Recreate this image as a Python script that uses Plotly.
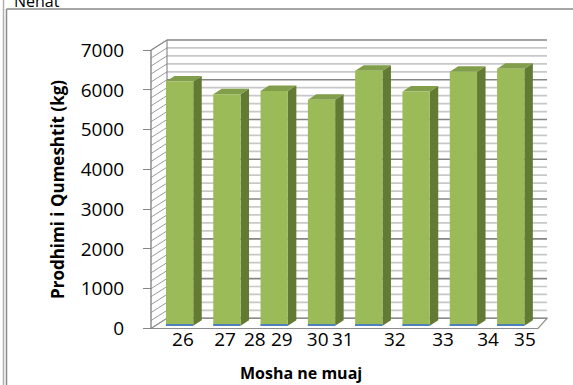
import plotly.graph_objects as go

# ---- data -------------------------------------------------------------
milk_kg = [6140, 5820, 5900, 5680, 6410, 5890, 6390, 6460]   # front bars (kg)
foot_series = [35, 35, 35, 35, 35, 35, 35, 35]                 # thin blue series at the foot
age_labels = ["26", "27", "28", "29", "30", "31", "32", "33", "34", "35"]
y_ticks = [0, 1000, 2000, 3000, 4000, 5000, 6000, 7000]

# ---- layout geometry (pixels) ----------------------------------------
W, H = 573, 385
BAR0_PX = 179.6          # centre of first bar front face
BAR_STEP = 47.3          # distance between bar centres
KPX = 0.03976            # pixels per kg
BASE_PX = 325.7          # row of 0 kg on the bar plane
FRONT_DV = -2.8 / KPX    # front edge of the box, relative to bar plane
BACK_DV = 7.4 / KPX      # back wall, relative to bar plane
BAR_W = 27.3 / BAR_STEP
SIDE_DX = 8.5 / BAR_STEP
SIDE_DV = 5.5 / KPX
label_pos = [0.07, 0.96, 1.59, 2.16, 2.92, 3.45, 4.55, 5.57, 6.52, 7.30]


def X(px):
    return (px - BAR0_PX) / BAR_STEP


x_range = [X(0), X(W)]
y_range = [-(H - BASE_PX) / KPX, BASE_PX / KPX]

FRONT_L, BACK_L = X(151), X(167)
FRONT_R, BACK_R = X(538), X(547)

GREEN = "#9BBB59"
GREEN_TOP = "#819E4A"
GREEN_SIDE = "#637A34"

shapes = []

# back wall grid (major every 1000, minor every 200)
for v in range(0, 7001, 200):
    major = v % 1000 == 0
    shapes.append(dict(type="line", xref="x", yref="y", layer="below",
                       x0=BACK_L, x1=BACK_R, y0=v + BACK_DV, y1=v + BACK_DV,
                       line=dict(color="#858585" if major else "#C8C8C8",
                                 width=1.7)))
    # side wall hatching
    shapes.append(dict(type="line", xref="x", yref="y", layer="below",
                       x0=FRONT_L, x1=BACK_L, y0=v + FRONT_DV, y1=v + BACK_DV,
                       line=dict(color="#9A9A9A", width=1)))

# floor
shapes.append(dict(type="path", xref="x", yref="y", layer="below",
                   path=(f"M{FRONT_L},{FRONT_DV} L{FRONT_R},{FRONT_DV} "
                         f"L{BACK_R},{BACK_DV} L{BACK_L},{BACK_DV} Z"),
                   fillcolor="white", line=dict(color="#8C8C8C", width=1.2)))
# wall edges
shapes.append(dict(type="line", xref="x", yref="y", layer="below",
                   x0=BACK_L, x1=BACK_L, y0=BACK_DV, y1=7000 + BACK_DV,
                   line=dict(color="#8C8C8C", width=1.2)))
shapes.append(dict(type="line", xref="x", yref="y", layer="below",
                   x0=FRONT_L, x1=BACK_L, y0=7000 + FRONT_DV, y1=7000 + BACK_DV,
                   line=dict(color="#8C8C8C", width=1.2)))
# front value axis line
shapes.append(dict(type="line", xref="x", yref="y", layer="above",
                   x0=FRONT_L, x1=FRONT_L, y0=FRONT_DV, y1=7000 + FRONT_DV,
                   line=dict(color="#868686", width=1.4)))

# bar side and top faces
for i, v in enumerate(milk_kg):
    xl, xr = i - BAR_W / 2, i + BAR_W / 2
    shapes.append(dict(type="path", xref="x", yref="y", layer="below",
                       path=(f"M{xr},0 L{xr + SIDE_DX},{SIDE_DV} "
                             f"L{xr + SIDE_DX},{v + SIDE_DV} L{xr},{v} Z"),
                       fillcolor=GREEN_SIDE, line=dict(width=0)))
    shapes.append(dict(type="path", xref="x", yref="y", layer="below",
                       path=(f"M{xl},{v} L{xl + SIDE_DX},{v + SIDE_DV} "
                             f"L{xr + SIDE_DX},{v + SIDE_DV} L{xr},{v} Z"),
                       fillcolor=GREEN_TOP, line=dict(width=0)))

# outer frame
shapes += [
    dict(type="line", xref="paper", yref="paper", x0=3.5 / W, x1=3.5 / W,
         y0=0, y1=1, line=dict(color="#B0B0B0", width=1.5)),
    dict(type="line", xref="paper", yref="paper", x0=6.5 / W, x1=6.5 / W,
         y0=0, y1=1 - 9 / H, line=dict(color="#8A8A8A", width=1.5)),
    dict(type="line", xref="paper", yref="paper", x0=6.5 / W, x1=1,
         y0=1 - 9 / H, y1=1 - 9 / H, line=dict(color="#8A8A8A", width=1.5)),
]

idx = list(range(len(milk_kg)))
fig = go.Figure()
fig.add_trace(go.Bar(x=idx, y=milk_kg, width=BAR_W, marker_color=GREEN,
                     marker_line_width=0, hoverinfo="y"))
fig.add_trace(go.Bar(x=idx, y=foot_series, width=BAR_W, marker_color="#4F81BD",
                     marker_line_width=0, hoverinfo="skip"))
# carrier for the front value axis
fig.add_trace(go.Scatter(x=[None], y=[None], yaxis="y2", showlegend=False))

font = "Open Sans"
fig.update_layout(
    width=W, height=H, margin=dict(l=0, r=0, t=0, b=0),
    paper_bgcolor="white", plot_bgcolor="white",
    barmode="overlay", showlegend=False,
    font=dict(family=font, color="#000000"),
    shapes=shapes,
    xaxis=dict(range=x_range, anchor="free", position=(H - 325) / H,
               showgrid=False, zeroline=False, showline=False,
               tickmode="array", tickvals=label_pos, ticktext=age_labels,
               ticks="", tickfont=dict(size=19, family=font, color="#000"),
               ticklabelstandoff=1),
    yaxis=dict(range=y_range, visible=False),
    yaxis2=dict(range=[y_range[0] - FRONT_DV, y_range[1] - FRONT_DV],
                overlaying="y", anchor="free", position=151 / W, side="left",
                showgrid=False, zeroline=False, showline=False,
                tickmode="array", tickvals=y_ticks, ticks="outside", ticklen=8,
                tickcolor="#868686", tickwidth=1.4,
                tickfont=dict(size=19, family=font, color="#000"),
                ticklabelstandoff=15),
    annotations=[
        dict(text="<b>Prodhimi i Qumeshtit (kg)</b>", xref="paper", yref="paper",
             x=58 / W, y=1 - 190 / H, xanchor="center", yanchor="middle",
             textangle=-90, showarrow=False, font=dict(size=17, family=font)),
        dict(text="<b>Mosha ne muaj</b>", xref="paper", yref="paper",
             x=301 / W, y=1 - 373 / H, xanchor="center", yanchor="middle",
             showarrow=False, font=dict(size=16, family=font)),
        dict(text="Nehat", xref="paper", yref="paper", x=12 / W, y=1 - 1 / H,
             xanchor="left", yanchor="middle", showarrow=False,
             font=dict(size=16, family=font)),
    ],
)

fig.write_html("out.html")
